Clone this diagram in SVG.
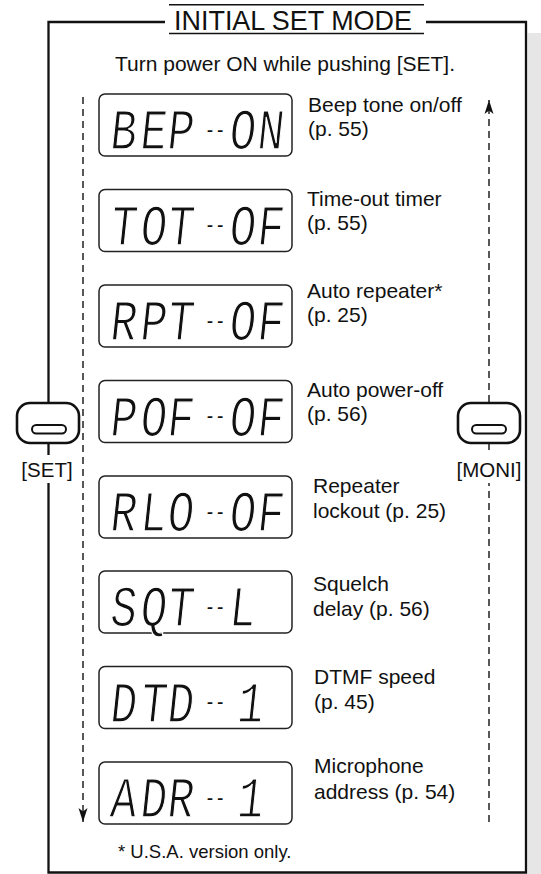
<svg xmlns="http://www.w3.org/2000/svg" width="541" height="874" viewBox="0 0 541 874">
<style>
text{font-family:"Liberation Sans",Arial,sans-serif;fill:#111}
.lbl{font-size:21px}
.lcd{font-family:"Liberation Mono","DejaVu Sans Mono",monospace;font-size:44px;fill:#111;stroke:#fff;stroke-width:1}
.dd{font-size:17px;stroke:none}
.box{fill:#fff;stroke:#222;stroke-width:1.5}
.dash{fill:none;stroke:#111;stroke-width:1.4;stroke-dasharray:7 5}
.btn{fill:#fff;stroke:#111;stroke-width:2.6}
.pill{fill:#fff;stroke:#111;stroke-width:2}
</style>
<defs>
<marker id="arr" viewBox="-16 -6 18 12" refX="0" refY="0" markerWidth="18" markerHeight="12" markerUnits="userSpaceOnUse" orient="auto">
<path d="M0,0 L-14,-4.5 L-10.5,0 L-14,4.5 Z" fill="#111" stroke="none"/>
</marker>
</defs>
<rect x="0" y="0" width="541" height="874" fill="#fff"/>
<rect x="527.5" y="33" width="14" height="841" fill="#e6e6e6"/>
<g id="frame">
<path d="M165,22 H48.5 V872.5 H526 V22 H426" fill="none" stroke="#111" stroke-width="2.3"/>
<line x1="169" y1="4.7" x2="424" y2="4.7" stroke="#111" stroke-width="1.4"/>
<line x1="169" y1="33.5" x2="424" y2="33.5" stroke="#111" stroke-width="1.4"/>
<text x="293" y="30" font-size="28" text-anchor="middle" textLength="238" lengthAdjust="spacingAndGlyphs">INITIAL SET MODE</text>
<text x="285" y="71" font-size="21" text-anchor="middle">Turn power ON while pushing [SET].</text>
<text x="118" y="858" font-size="18.5">* U.S.A. version only.</text>
</g>
<g id="connectors">
<line class="dash" x1="83" y1="97" x2="83" y2="822" marker-end="url(#arr)"/>
<line class="dash" x1="489" y1="822" x2="489" y2="100" marker-end="url(#arr)"/>
</g>
<g id="set-button">
<rect class="btn" x="17" y="403" width="62" height="40" rx="13"/>
<rect class="pill" x="32" y="425" width="34" height="8.5" rx="4.2"/>
<rect x="16" y="455" width="64" height="28" fill="#fff"/>
<text x="47" y="477" font-size="20.5" text-anchor="middle">[SET]</text>
</g>
<g id="moni-button">
<rect class="btn" x="458" y="403" width="62" height="40" rx="13"/>
<rect class="pill" x="472" y="425" width="34" height="8.5" rx="4.2"/>
<rect x="455" y="455" width="68" height="28" fill="#fff"/>
<text x="489" y="477" font-size="20.5" text-anchor="middle">[MONI]</text>
</g>
<g id="bep">
<rect class="box" x="99" y="94" width="193" height="62" rx="6"/>
<text class="lcd" transform="translate(0,149) skewX(-6) scale(1,1.32)"><tspan x="109 139 166">BEP</tspan><tspan class="dd" x="203" dy="-9.4">--</tspan><tspan x="228 256" dy="9.4">ON</tspan></text>
<text class="lbl" x="308" y="112">Beep tone on/off</text>
<text class="lbl" x="308" y="136">(p. 55)</text>
</g>
<g id="tot">
<rect class="box" x="99" y="189.5" width="193" height="62" rx="6"/>
<text class="lcd" transform="translate(0,244.5) skewX(-6) scale(1,1.32)"><tspan x="109 139 166">TOT</tspan><tspan class="dd" x="203" dy="-9.4">--</tspan><tspan x="228 256" dy="9.4">OF</tspan></text>
<text class="lbl" x="307" y="206">Time-out timer</text>
<text class="lbl" x="307" y="230">(p. 55)</text>
</g>
<g id="rpt">
<rect class="box" x="99" y="285" width="193" height="62" rx="6"/>
<text class="lcd" transform="translate(0,340) skewX(-6) scale(1,1.32)"><tspan x="109 139 166">RPT</tspan><tspan class="dd" x="203" dy="-9.4">--</tspan><tspan x="228 256" dy="9.4">OF</tspan></text>
<text class="lbl" x="307" y="298">Auto repeater*</text>
<text class="lbl" x="307" y="322">(p. 25)</text>
</g>
<g id="pof">
<rect class="box" x="99" y="380.5" width="193" height="62" rx="6"/>
<text class="lcd" transform="translate(0,435.5) skewX(-6) scale(1,1.32)"><tspan x="109 139 166">POF</tspan><tspan class="dd" x="203" dy="-9.4">--</tspan><tspan x="228 256" dy="9.4">OF</tspan></text>
<text class="lbl" x="307" y="397">Auto power-off</text>
<text class="lbl" x="307" y="421">(p. 56)</text>
</g>
<g id="rlo">
<rect class="box" x="99" y="476" width="193" height="62" rx="6"/>
<text class="lcd" transform="translate(0,531) skewX(-6) scale(1,1.32)"><tspan x="109 139 166">RLO</tspan><tspan class="dd" x="203" dy="-9.4">--</tspan><tspan x="228 256" dy="9.4">OF</tspan></text>
<text class="lbl" x="313" y="493">Repeater</text>
<text class="lbl" x="313" y="518">lockout (p. 25)</text>
</g>
<g id="sqt">
<rect class="box" x="99" y="571" width="193" height="62" rx="6"/>
<text class="lcd" transform="translate(0,626) skewX(-6) scale(1,1.32)"><tspan x="109 139 166">SQT</tspan><tspan class="dd" x="203" dy="-9.4">--</tspan><tspan x="228" dy="9.4">L</tspan></text>
<text class="lbl" x="313" y="591">Squelch</text>
<text class="lbl" x="313" y="616">delay (p. 56)</text>
</g>
<g id="dtd">
<rect class="box" x="99" y="666.5" width="193" height="62" rx="6"/>
<text class="lcd" transform="translate(0,721.5) skewX(-6) scale(1,1.32)"><tspan x="109 139 166">DTD</tspan><tspan class="dd" x="203" dy="-9.4">--</tspan><tspan x="236" dy="9.4">1</tspan></text>
<text class="lbl" x="314" y="684">DTMF speed</text>
<text class="lbl" x="314" y="709">(p. 45)</text>
</g>
<g id="adr">
<rect class="box" x="99" y="762" width="193" height="62" rx="6"/>
<text class="lcd" transform="translate(0,817) skewX(-6) scale(1,1.32)"><tspan x="109 139 166">ADR</tspan><tspan class="dd" x="203" dy="-9.4">--</tspan><tspan x="236" dy="9.4">1</tspan></text>
<text class="lbl" x="314" y="773">Microphone</text>
<text class="lbl" x="314" y="799">address (p. 54)</text>
</g>
</svg>
